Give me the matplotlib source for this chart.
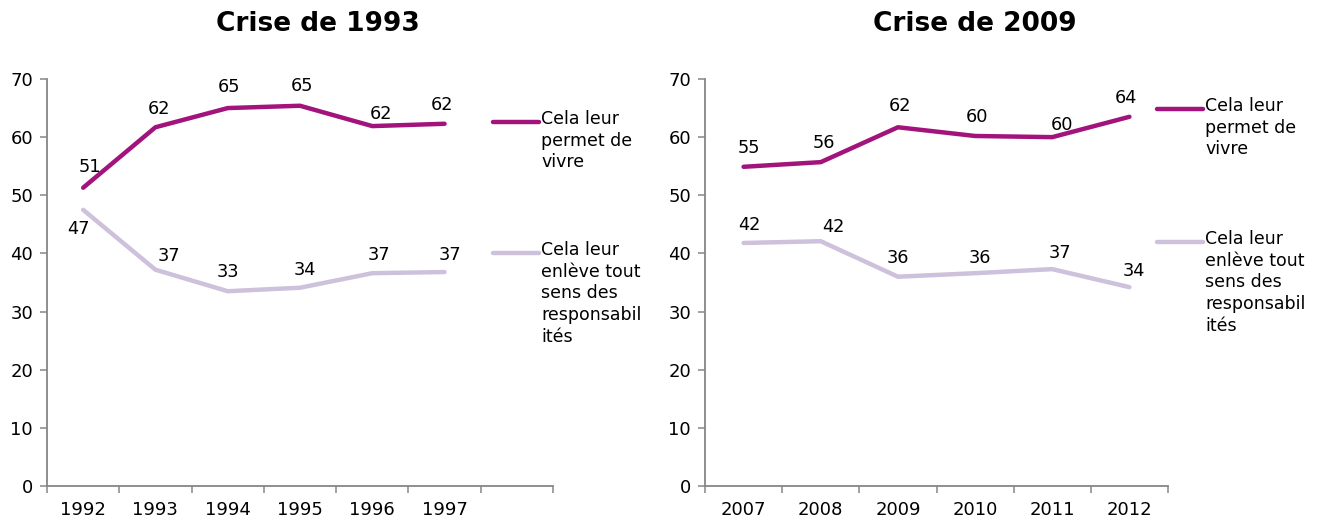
import numpy as np
import matplotlib
matplotlib.use("Agg")
import matplotlib.pyplot as plt
from matplotlib.lines import Line2D

# data
years_1993 = ["1992", "1993", "1994", "1995", "1996", "1997"]
vivre_1993 = [51.3, 61.7, 65.0, 65.4, 61.9, 62.3]
sens_1993 = [47.5, 37.2, 33.5, 34.1, 36.6, 36.8]
vivre_1993_lbl = ["51", "62", "65", "65", "62", "62"]
sens_1993_lbl = ["47", "37", "33", "34", "37", "37"]

years_2009 = ["2007", "2008", "2009", "2010", "2011", "2012"]
vivre_2009 = [54.9, 55.7, 61.7, 60.2, 60.0, 63.5]
sens_2009 = [41.8, 42.1, 36.0, 36.6, 37.3, 34.2]
vivre_2009_lbl = ["55", "56", "62", "60", "60", "64"]
sens_2009_lbl = ["42", "42", "36", "36", "37", "34"]

series_names = ["Cela leur\npermet de\nvivre",
                "Cela leur\nenlève tout\nsens des\nresponsabil\nités"]

PURPLE = "#A2137C"
LAVENDER = "#CDC1DC"
AXIS_GREY = "#868686"

# label offsets (pixels) for each data label
off_vivre_1993 = [(7, 21), (4, 18), (1, 21), (2, 20), (9, 12), (-3, 19)]
off_sens_1993 = [(-5, -19), (14, 14), (0, 19), (5, 18), (7, 18), (5, 17)]
off_vivre_2009 = [(5, 19), (3, 19), (2, 21), (2, 19), (10, 12), (-3, 19)]
off_sens_2009 = [(6, 18), (13, 14), (0, 19), (5, 15), (8, 16), (4, 16)]

W, H = 1323, 523
fig = plt.figure(figsize=(W / 100, H / 100), dpi=100)


def px(x, y):
    return x / W, 1 - y / H


def make_panel(rect, years, vivre, sens, lbl_v, lbl_s, off_v, off_s, nslots):
    ax = fig.add_axes(rect)
    x = np.arange(len(years))
    ax.plot(x, vivre, color=PURPLE, lw=3.2, solid_capstyle="round")
    ax.plot(x, sens, color=LAVENDER, lw=3.2, solid_capstyle="round")
    for xi, v, t, o in zip(x, vivre, lbl_v, off_v):
        ax.annotate(t, (xi, v), xytext=o, textcoords="offset pixels",
                    ha="center", va="center", fontsize=12.8)
    for xi, v, t, o in zip(x, sens, lbl_s, off_s):
        ax.annotate(t, (xi, v), xytext=o, textcoords="offset pixels",
                    ha="center", va="center", fontsize=12.8)
    ax.set_xlim(-0.5, nslots - 0.5)
    ax.set_ylim(0, 70)
    ax.set_yticks(range(0, 71, 10))
    ax.set_xticks(x)
    ax.set_xticklabels(years)
    ax.set_xticks(np.arange(-0.5, nslots, 1.0), minor=True)
    ax.tick_params(axis="x", which="major", length=0, pad=11, labelsize=13)
    ax.tick_params(axis="x", which="minor", length=5, width=1.1,
                   color=AXIS_GREY, direction="out")
    ax.tick_params(axis="y", length=5, width=1.1, color=AXIS_GREY,
                   direction="out", pad=5, labelsize=13)
    for s in ["top", "right"]:
        ax.spines[s].set_visible(False)
    for s in ["left", "bottom"]:
        ax.spines[s].set_color(AXIS_GREY)
        ax.spines[s].set_linewidth(1.3)
    return ax


y0 = 1 - 486 / H
h = (486 - 79) / H
make_panel([47 / W, y0, (553 - 47) / W, h], years_1993, vivre_1993, sens_1993,
           vivre_1993_lbl, sens_1993_lbl, off_vivre_1993, off_sens_1993, 7)
make_panel([705 / W, y0, (1168 - 705) / W, h], years_2009, vivre_2009, sens_2009,
           vivre_2009_lbl, sens_2009_lbl, off_vivre_2009, off_sens_2009, 6)

# titles
fig.text(*px(318, 24), "Crise de 1993", ha="center", va="center",
         fontsize=19, fontweight="bold")
fig.text(*px(975, 24), "Crise de 2009", ha="center", va="center",
         fontsize=19, fontweight="bold")


# legends drawn by hand (line aligned with first text line)
def legend_entry(x0, x1, y, color, label):
    fx0, fy = px(x0, y)
    fx1, _ = px(x1, y)
    fig.add_artist(Line2D([fx0, fx1], [fy, fy], color=color, lw=3.2,
                          solid_capstyle="round"))
    tx, ty = px(x1 + 2, y - 12)
    fig.text(tx, ty, label, ha="left", va="top", fontsize=12.5,
             linespacing=1.26)


legend_entry(493, 539, 122, PURPLE, series_names[0])
legend_entry(493, 539, 253, LAVENDER, series_names[1])
legend_entry(1157, 1203, 109, PURPLE, series_names[0])
legend_entry(1157, 1203, 242, LAVENDER, series_names[1])

fig.savefig("out.png", dpi=100)
